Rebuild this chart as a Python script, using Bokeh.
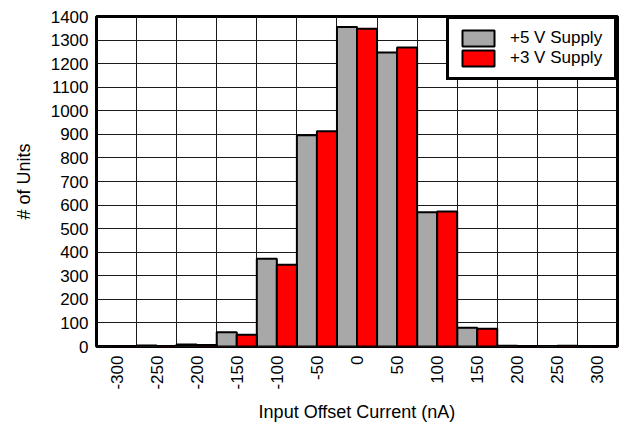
import math
from bokeh.plotting import figure
from bokeh.models import FixedTicker, Legend, LegendItem, ColumnDataSource, Range1d
from bokeh.embed import file_html
from bokeh.resources import INLINE

# ---- data ----
bins = [-300, -250, -200, -150, -100, -50, 0, 50, 100, 150, 200, 250, 300]
tick_labels = ["-300", "-250", "-200", "-150", "-100", "-50", "0",
               "50", "100", "150", "200", "250", "300"]
supply5 = [1, 4, 8, 60, 372, 896, 1355, 1247, 570, 80, 3, 2, 1]
supply3 = [1, 2, 6, 50, 347, 913, 1348, 1268, 573, 75, 1, 3, 1]
y_ticks = list(range(0, 1401, 100))
bin_width = 50
series_names = ["+5 V Supply", "+3 V Supply"]

FONT = "Liberation Sans"

half = bin_width / 2
src5 = ColumnDataSource(dict(x=[b - half / 2 for b in bins], top=supply5))
src3 = ColumnDataSource(dict(x=[b + half / 2 for b in bins], top=supply3))

p = figure(width=621, height=424, output_backend="svg", toolbar_location=None,
           x_range=Range1d(bins[0] - half, bins[-1] + half),
           y_range=Range1d(0, 1400),
           min_border_left=96, min_border_right=4, min_border_top=16,
           min_border_bottom=75)

p.background_fill_color = "white"
p.border_fill_color = "white"
p.outline_line_color = "black"
p.outline_line_width = 3
p.outline_line_alpha = 1.0

# grids
p.xgrid.ticker = FixedTicker(ticks=[b - half for b in bins] + [bins[-1] + half])
p.ygrid.ticker = FixedTicker(ticks=y_ticks)
for g in (p.xgrid, p.ygrid):
    g.grid_line_color = "#1a1a1a"
    g.grid_line_width = 1
    g.grid_line_alpha = 1.0

r5 = p.vbar(x="x", top="top", bottom=0, width=half, source=src5,
            fill_color="#A8A8A8", line_color="black", line_width=2)
r3 = p.vbar(x="x", top="top", bottom=0, width=half, source=src3,
            fill_color="#FF0000", line_color="black", line_width=2)

# axes
xa = p.xaxis[0]
xa.ticker = FixedTicker(ticks=bins)
xa.major_label_overrides = {b: t for b, t in zip(bins, tick_labels)}
xa.major_label_orientation = math.pi / 2
xa.axis_label = "Input Offset Current (nA)"
xa.major_label_standoff = 9
xa.axis_label_standoff = 9

ya = p.yaxis[0]
ya.ticker = FixedTicker(ticks=y_ticks)
ya.axis_label = "# of Units"
ya.major_label_standoff = 8
ya.axis_label_standoff = 14

for ax in (xa, ya):
    ax.axis_line_color = None
    ax.major_tick_line_color = None
    ax.minor_tick_line_color = None
    ax.major_tick_out = 0
    ax.major_tick_in = 0
    ax.major_label_text_font = FONT
    ax.major_label_text_font_size = "17px"
    ax.major_label_text_color = "black"
    ax.axis_label_text_font = FONT
    ax.axis_label_text_font_size = "18px"
    ax.axis_label_text_font_style = "normal"
    ax.axis_label_text_color = "black"

legend = Legend(items=[LegendItem(label=series_names[0], renderers=[r5]),
                       LegendItem(label=series_names[1], renderers=[r3])],
                location="top_right", margin=0, padding=9, spacing=0,
                glyph_width=40, glyph_height=20, label_height=20,
                label_width=95, label_standoff=12,
                label_text_font=FONT, label_text_font_size="17px",
                label_text_color="black",
                border_line_color="black", border_line_width=3,
                border_line_alpha=1.0,
                background_fill_color="white", background_fill_alpha=1.0)
p.add_layout(legend)

open("out.html", "w").write(file_html(p, INLINE))
